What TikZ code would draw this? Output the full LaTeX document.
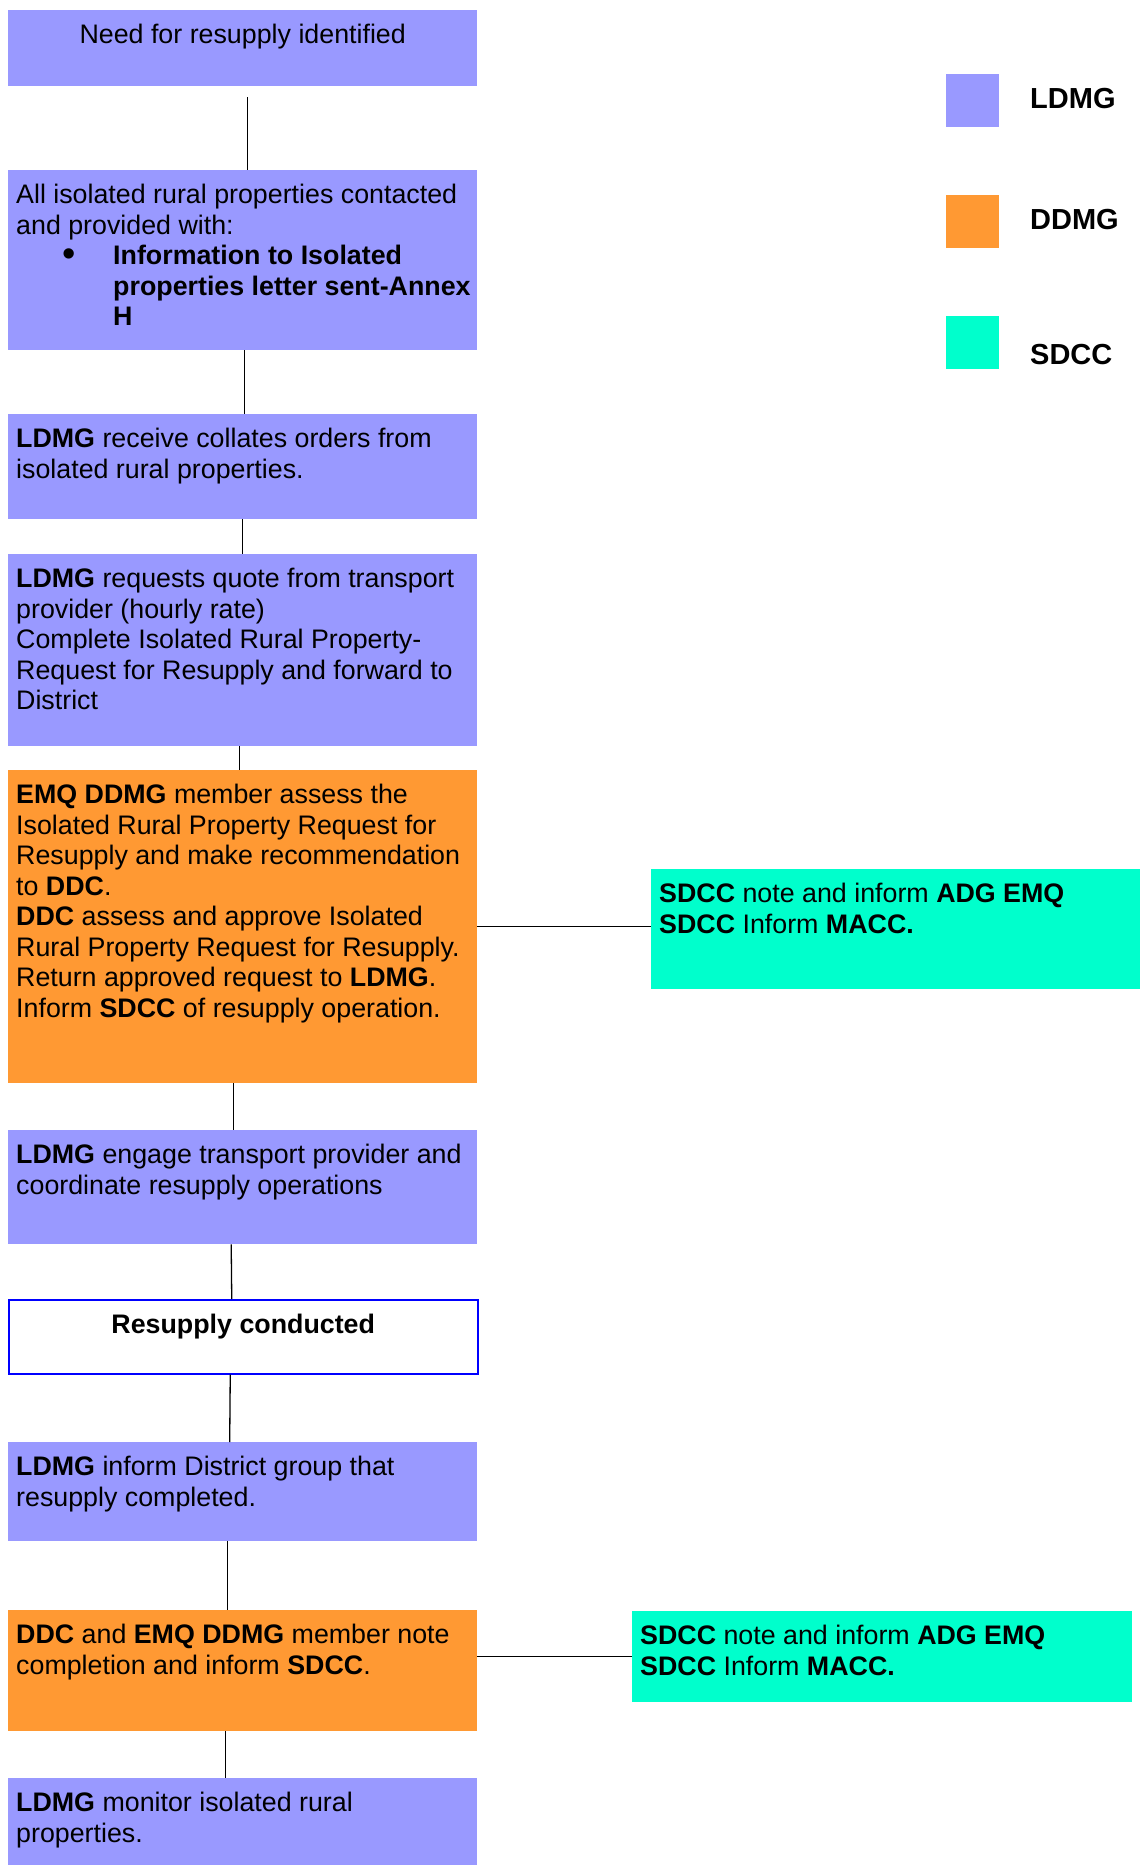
\documentclass[tikz,border=0pt]{standalone}
\usepackage{fontspec}
\setmainfont{Liberation Sans}
\usepackage{xcolor}
\definecolor{ldmgcol}{HTML}{9999FF}
\definecolor{ddmgcol}{HTML}{FF9933}
\definecolor{sdcccol}{HTML}{00FFCC}
% text block of a step: width, height, text on top
\newcommand{\boxtext}[3]{\parbox[c][#2pt][t]{#1pt}{\raggedright #3}}

\begin{document}
\begin{tikzpicture}[x=1pt,y=-1pt,
	every node/.style={font=\fontsize{26.8}{30.5}\selectfont},
	stepbox/.style={anchor=north west,inner xsep=8pt,inner ysep=14pt},
	ldmgbox/.style={stepbox,fill=ldmgcol},
	ddmgbox/.style={stepbox,fill=ddmgcol},
	sdccbox/.style={stepbox,fill=sdcccol},
	keybox/.style={anchor=north west,minimum size=53pt,inner sep=0pt},
	keytext/.style={anchor=west,inner sep=0pt,font=\fontsize{29}{32}\selectfont\bfseries},
	link/.style={line width=1.3pt}]
	\useasboundingbox (0,0) rectangle (1140,1865);

	% Steps
	\node[ldmgbox] (b1) at (8,10) {\boxtext{453}{48}{\centering Need for resupply identified}};
	\node[ldmgbox] (b2) at (8,170) {\boxtext{453}{152}{All isolated rural properties contacted\\
		and provided with:\\
		\makebox[97pt][l]{\hspace*{46pt}\raisebox{-2pt}{\fontsize{38}{30}\selectfont\textbullet}}\textbf{Information to Isolated}\\
		\hspace*{97pt}\mbox{\textbf{properties letter sent-Annex}}\\
		\hspace*{97pt}\textbf{H}}};
	\node[ldmgbox] (b3) at (8,414) {\boxtext{453}{77}{\textbf{LDMG} receive collates orders from\\
		isolated rural properties.}};
	\node[ldmgbox] (b4) at (8,554) {\boxtext{453}{164}{\textbf{LDMG} requests quote from transport\\
		provider (hourly rate)\\
		Complete Isolated Rural Property-\\
		Request for Resupply and forward to\\
		District}};
	\node[ddmgbox] (b5) at (8,770) {\boxtext{453}{285}{\textbf{EMQ DDMG} member assess the\\
		Isolated Rural Property Request for\\
		Resupply and make recommendation\\
		to \textbf{DDC}.\\
		\textbf{DDC} assess and approve Isolated\\
		Rural Property Request for Resupply.\\
		Return approved request to \textbf{LDMG}.\\
		Inform \textbf{SDCC} of resupply operation.}};
	\node[ldmgbox] (b6) at (8,1130) {\boxtext{453}{86}{\textbf{LDMG} engage transport provider and\\
		coordinate resupply operations}};
	\node[stepbox,draw=blue,line width=1.5pt] (b7) at (8,1299) {\boxtext{453}{46}{\centering\textbf{Resupply conducted}}};
	\node[ldmgbox] (b8) at (8,1442) {\boxtext{453}{71}{\textbf{LDMG} inform District group that\\
		resupply completed.}};
	\node[ddmgbox] (b9) at (8,1610) {\boxtext{453}{93}{\textbf{DDC} and \textbf{EMQ DDMG} member note\\
		completion and inform \textbf{SDCC}.}};
	\node[ldmgbox] (b10) at (8,1778) {\boxtext{453}{59}{\textbf{LDMG} monitor isolated rural\\
		properties.}};

	% State notes
	\node[sdccbox] (c1) at (651,869) {\boxtext{473}{92}{\textbf{SDCC} note and inform \textbf{ADG EMQ}\\
		\textbf{SDCC} Inform \textbf{MACC.}}};
	\node[sdccbox] (c2) at (632,1611) {\boxtext{484}{63}{\textbf{SDCC} note and inform \textbf{ADG EMQ}\\
		\textbf{SDCC} Inform \textbf{MACC.}}};

	% Legend
	\node[keybox,fill=ldmgcol] (k1) at (946,74) {};
	\node[keybox,fill=ddmgcol] (k2) at (946,195) {};
	\node[keybox,fill=sdcccol] (k3) at (946,316) {};
	\node[keytext] (t1) at (1030,99) {LDMG};
	\node[keytext] (t2) at (1030,220) {DDMG};
	\node[keytext] (t3) at (1030,355) {SDCC};

	% Connectors
	\draw[link,shorten <=11pt] ([xshift=4.5pt]b1.south) -- ([xshift=4.5pt]b2.north);
	\foreach \a/\b/\s in {b2/b3/1.5,b3/b4/0,b4/b5/-3.5,b5/b6/-9.5,b6/b7/-11.5,b7/b8/-13,b8/b9/-15.5,b9/b10/-17.5}
		\draw[link] ([xshift=\s pt]\a.south) -- ([xshift=\s pt]\b.north);
	\draw[link] (b5.east) -- (b5.east -| c1.west);
	\draw[link] (c2.west -| b9.east) -- (c2.west);
\end{tikzpicture}
\end{document}
